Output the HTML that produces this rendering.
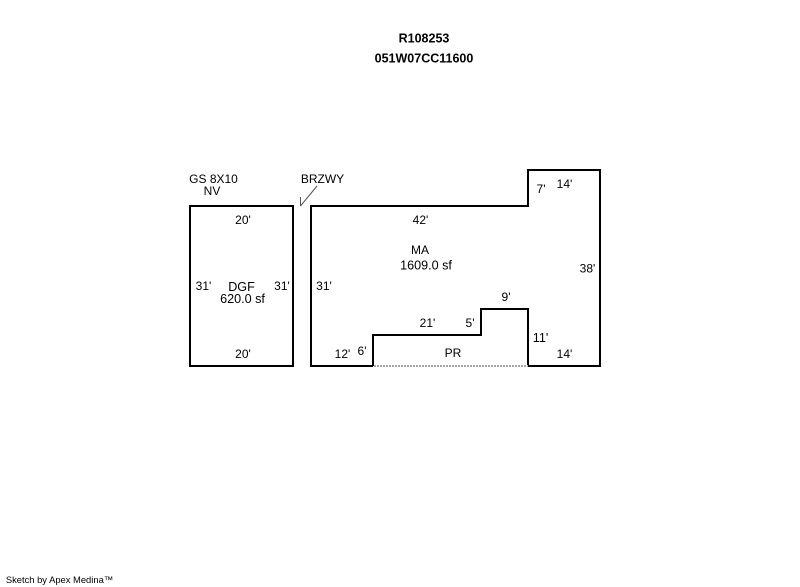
<!DOCTYPE html>
<html>
<head>
<meta charset="utf-8">
<style>
html,body{margin:0;padding:0;background:#fff;width:800px;height:587px;overflow:hidden}
svg{display:block}
text{font-family:"Liberation Sans",Arial,sans-serif;font-size:12px;fill:#000;text-anchor:middle}
.b{font-weight:bold;font-size:12.5px}
.w{font-size:12.6px}
</style>
</head>
<body>
<svg width="800" height="587" viewBox="0 0 800 587" xmlns="http://www.w3.org/2000/svg">
<g fill="none" stroke="#000" stroke-width="2" shape-rendering="crispEdges">
<rect x="190" y="206" width="103" height="160"/>
<path d="M373 366H311V206H528V170H600V366H528V309H481V335H373V366"/>
</g>
<path d="M374 366H528" stroke="#a6a6a6" stroke-width="2" stroke-dasharray="2 1" fill="none" shape-rendering="crispEdges"/>
<path d="M300.5 206L317 186M300.5 206L300.5 197" stroke="#555" stroke-width="1" fill="none"/>
<text class="b" x="424" y="42.5">R108253</text>
<text class="b" x="424" y="62.5">051W07CC11600</text>
<text x="213.5" y="183">GS 8X10</text>
<text x="212" y="195">NV</text>
<text x="322.5" y="183">BRZWY</text>
<text x="243" y="224">20'</text>
<text x="203.5" y="290">31'</text>
<text class="w" x="241.5" y="291">DGF</text>
<text class="w" x="242.5" y="303">620.0 sf</text>
<text x="282" y="290">31'</text>
<text x="243" y="358">20'</text>
<text x="324" y="290">31'</text>
<text x="342.5" y="358">12'</text>
<text x="362" y="355">6'</text>
<text x="420.5" y="224">42'</text>
<text x="420" y="254">MA</text>
<text class="w" x="426" y="269.5">1609.0 sf</text>
<text x="541" y="193">7'</text>
<text x="564.5" y="188">14'</text>
<text x="587.5" y="272.5">38'</text>
<text x="506" y="301">9'</text>
<text x="427.5" y="327">21'</text>
<text x="470" y="327">5'</text>
<text class="w" x="540.5" y="342">11'</text>
<text x="453" y="357">PR</text>
<text x="564.5" y="358">14'</text>
<text x="59.5" y="583" style="font-size:9.4px">Sketch by Apex Medina™</text>
</svg>
</body>
</html>
